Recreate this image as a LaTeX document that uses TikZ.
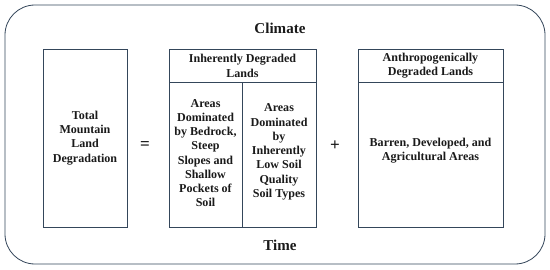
\documentclass[tikz,border=0pt]{standalone}
\usepackage{fontspec}
\setmainfont{Liberation Serif}
\usepackage{xcolor}
\usepackage{tikz}
\usetikzlibrary{positioning}
\definecolor{kslate}{HTML}{34465A}
\definecolor{ktext}{HTML}{1A1A1A}
\tikzset{
  boxline/.style={draw=kslate, line width=0.8pt},
  boxtext/.style={font=\fontsize{12}{14.2}\selectfont\bfseries, text=ktext, align=center},
  bigtext/.style={font=\fontsize{15}{17}\selectfont\bfseries, text=ktext},
  optext/.style={font=\fontsize{17}{18}\selectfont\bfseries, text=ktext}
}

\begin{document}
\begin{tikzpicture}[x=0.35cm, y=0.35cm]
\useasboundingbox (0,0) rectangle (55,26.9);
% outer frame
\draw[boxline, rounded corners=1.05cm] (0.5,0.5) rectangle (54.5,26.4);
\node[bigtext] (climate) at (28.0,24.1) {Climate};
\node[bigtext] (time) at (28.0,2.4) {Time};
% total
\draw[boxline] (4.3,4.2) rectangle (12.7,22.0);
\node[boxtext] (total) at (8.5,13.1) {Total\\Mountain\\Land\\Degradation};
\node[optext] (equals) at (14.5,12.3) {=};
% inherently degraded
\draw[boxline] (16.9,4.2) rectangle (31.6,22.0);
\draw[boxline] (16.9,18.7) -- (31.6,18.7);
\draw[boxline] (24.2,4.2) -- (24.2,18.7);
\node[boxtext] (inherent) at (24.25,20.3) {Inherently Degraded\\Lands};
\node[boxtext] (bedrock) at (20.55,11.6) {Areas\\Dominated\\by Bedrock,\\Steep\\Slopes and\\Shallow\\Pockets of\\Soil};
\node[boxtext] (lowsoil) at (27.9,11.7) {Areas\\Dominated\\by\\Inherently\\Low Soil\\Quality\\Soil Types};
\node[optext] (plus) at (33.5,12.3) {+};
% anthropogenic
\draw[boxline] (35.8,4.2) rectangle (50.3,22.0);
\draw[boxline] (35.8,18.7) -- (50.3,18.7);
\node[boxtext] (anthro) at (43.05,20.3) {Anthropogenically\\Degraded Lands};
\node[boxtext] (barren) at (43.05,11.8) {Barren, Developed, and\\Agricultural Areas};
\end{tikzpicture}
\end{document}
